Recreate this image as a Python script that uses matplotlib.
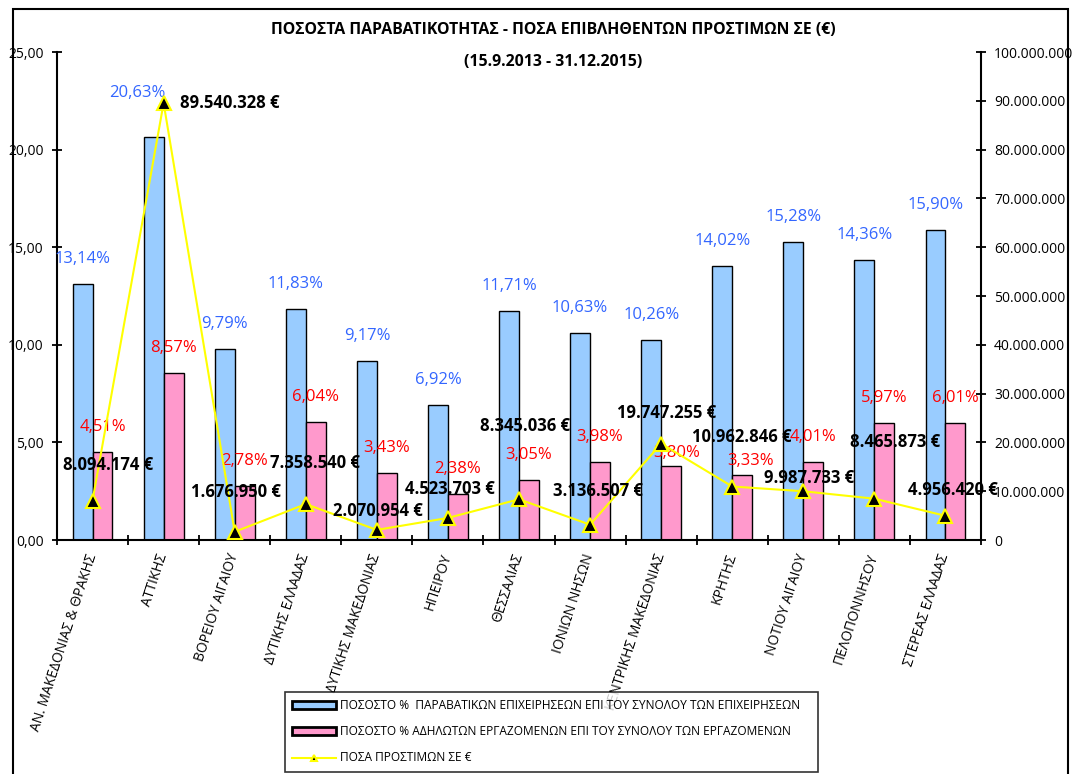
import numpy as np
import matplotlib
matplotlib.use("Agg")
import matplotlib.pyplot as plt
from matplotlib.patches import Rectangle
from matplotlib.ticker import FuncFormatter, FixedLocator

plt.rcParams['font.family'] = ['Open Sans', 'DejaVu Sans']

# data
regions = ["ΑΝ. ΜΑΚΕΔΟΝΙΑΣ & ΘΡΑΚΗΣ", "ΑΤΤΙΚΗΣ", "ΒΟΡΕΙΟΥ ΑΙΓΑΙΟΥ", "ΔΥΤΙΚΗΣ ΕΛΛΑΔΑΣ",
           "ΔΥΤΙΚΗΣ ΜΑΚΕΔΟΝΙΑΣ", "ΗΠΕΙΡΟΥ", "ΘΕΣΣΑΛΙΑΣ", "ΙΟΝΙΩΝ ΝΗΣΩΝ",
           "ΚΕΝΤΡΙΚΗΣ ΜΑΚΕΔΟΝΙΑΣ", "ΚΡΗΤΗΣ", "ΝΟΤΙΟΥ ΑΙΓΑΙΟΥ", "ΠΕΛΟΠΟΝΝΗΣΟΥ", "ΣΤΕΡΕΑΣ ΕΛΛΑΔΑΣ"]
pct_firms = [13.14, 20.63, 9.79, 11.83, 9.17, 6.92, 11.71, 10.63, 10.26, 14.02, 15.28, 14.36, 15.90]
pct_workers = [4.51, 8.57, 2.78, 6.04, 3.43, 2.38, 3.05, 3.98, 3.80, 3.33, 4.01, 5.97, 6.01]
fines = [8094174, 89540328, 1676950, 7358540, 2070954, 4523703, 8345036,
         3136507, 19747255, 10962846, 9987733, 8465873, 4956420]

legend_labels = ["ΠΟΣΟΣΤΟ %  ΠΑΡΑΒΑΤΙΚΩΝ ΕΠΙΧΕΙΡΗΣΕΩΝ ΕΠΙ ΤΟΥ ΣΥΝΟΛΟΥ ΤΩΝ ΕΠΙΧΕΙΡΗΣΕΩΝ",
                 "ΠΟΣΟΣΤΟ % ΑΔΗΛΩΤΩΝ ΕΡΓΑΖΟΜΕΝΩΝ ΕΠΙ ΤΟΥ ΣΥΝΟΛΟΥ ΤΩΝ ΕΡΓΑΖΟΜΕΝΩΝ",
                 "ΠΟΣΑ ΠΡΟΣΤΙΜΩΝ ΣΕ €"]

# label nudges in pixels (the excel labels were dragged around by hand)
fine_offsets = [(16, 36), (16, 0), (1, 40), (9, 41), (1, 19), (2, 29), (6, 73),
                (8, 34), (5, 31), (10, 50), (6, 13), (21, 57), (7, 26)]
firm_offsets = {1: (-16, 44)}
worker_offsets = {8: (6, 13), 9: (8, 14)}

W, H = 1078, 774
fig = plt.figure(figsize=(W / 100, H / 100), dpi=100)
ax = fig.add_axes([57 / W, (H - 540) / H, 924 / W, 488 / H])

x = np.arange(len(regions))
bw = 0.28
blue = '#99CCFF'
pink = '#FF99CC'
b1 = ax.bar(x - bw / 2, pct_firms, bw, color=blue, edgecolor='black', linewidth=1.0, zorder=2)
b2 = ax.bar(x + bw / 2, pct_workers, bw, color=pink, edgecolor='black', linewidth=1.0, zorder=2)

ax.set_xlim(-0.5, len(regions) - 0.5)
ax.set_ylim(0, 25)
ax.set_yticks(np.arange(0, 26, 5))
ax.yaxis.set_major_formatter(FuncFormatter(lambda v, p: f"{v:.2f}".replace(".", ",")))
ax.tick_params(axis='y', direction='inout', length=7, width=1.3, labelsize=10, pad=6)

ax.xaxis.set_major_locator(FixedLocator(np.arange(-0.5, len(regions), 1.0)))
ax.xaxis.set_major_formatter(FuncFormatter(lambda v, p: ""))
ax.set_xticks(x, minor=True)
ax.set_xticklabels(regions, minor=True, rotation=72, ha='right', va='center',
                   rotation_mode='anchor', fontsize=10)
ax.tick_params(axis='x', which='major', direction='inout', length=7, width=1.3)
ax.tick_params(axis='x', which='minor', length=0, pad=10)

for s in ['top', 'right']:
    ax.spines[s].set_visible(False)
for s in ['left', 'bottom']:
    ax.spines[s].set_linewidth(1.5)

for i, v in enumerate(pct_firms):
    dx, dy = firm_offsets.get(i, (0, 25))
    ax.annotate(f"{v:.2f}".replace(".", ",") + "%", (x[i] - bw / 2, v),
                xytext=(dx, dy), textcoords='offset pixels', ha='center', va='center',
                color='#3366FF', fontsize=12, zorder=5)
for i, v in enumerate(pct_workers):
    dx, dy = worker_offsets.get(i, (0, 25))
    ax.annotate(f"{v:.2f}".replace(".", ",") + "%", (x[i] + bw / 2, v),
                xytext=(dx, dy), textcoords='offset pixels', ha='center', va='center',
                color='#FF0000', fontsize=12, zorder=5)

ax2 = ax.twinx()
ax2.set_ylim(0, 100000000)
ax2.set_yticks(np.arange(0, 100000001, 10000000))
ax2.yaxis.set_major_formatter(FuncFormatter(lambda v, p: f"{int(v):,}".replace(",", ".")))
ax2.tick_params(axis='y', direction='inout', length=7, width=1.3, labelsize=10, pad=6)
for s in ['top', 'left', 'bottom']:
    ax2.spines[s].set_visible(False)
ax2.spines['right'].set_linewidth(1.5)

ln, = ax2.plot(x, fines, color='#FFFF00', linewidth=1.5, marker='^', markersize=10,
               markerfacecolor='black', markeredgecolor='#FFFF00', markeredgewidth=1.5, zorder=3)

for i, v in enumerate(fines):
    dx, dy = fine_offsets[i]
    txt = f"{v:,}".replace(",", ".") + " €"
    ax2.annotate(txt, (x[i], v), xytext=(dx, dy), textcoords='offset pixels',
                 ha='left' if i == 1 else 'center', va='center',
                 fontsize=12, fontweight='bold', color='black', zorder=4)

fig.text(553 / W, 1 - 30 / H, "ΠΟΣΟΣΤΑ ΠΑΡΑΒΑΤΙΚΟΤΗΤΑΣ - ΠΟΣΑ ΕΠΙΒΛΗΘΕΝΤΩΝ ΠΡΟΣΤΙΜΩΝ ΣΕ (€)",
         ha='center', va='center', fontsize=11.4, fontweight='bold')
fig.text(553 / W, 1 - 62 / H, "(15.9.2013 - 31.12.2015)",
         ha='center', va='center', fontsize=11.4, fontweight='bold')

# outer chart frame
fig.add_artist(Rectangle((13 / W, -0.05), (1068 - 13) / W, 1.05 - 9 / H, transform=fig.transFigure,
                         fill=False, edgecolor='black', linewidth=1.5))

leg = fig.legend([b1, b2, ln], legend_labels, loc='upper left',
                 bbox_to_anchor=(285 / W, 0, (818 - 285) / W, (H - 692) / H),
                 mode='expand', fontsize=8.6, frameon=True, fancybox=False,
                 edgecolor='black', handlelength=3.7, handleheight=0.55,
                 handletextpad=0.3, labelspacing=1.1, borderpad=0.6, borderaxespad=0,
                 markerscale=0.5)
leg.get_frame().set_linewidth(1.2)
for h in leg.legend_handles[:2]:
    h.set_linewidth(2)

fig.savefig("out.png", dpi=100)
